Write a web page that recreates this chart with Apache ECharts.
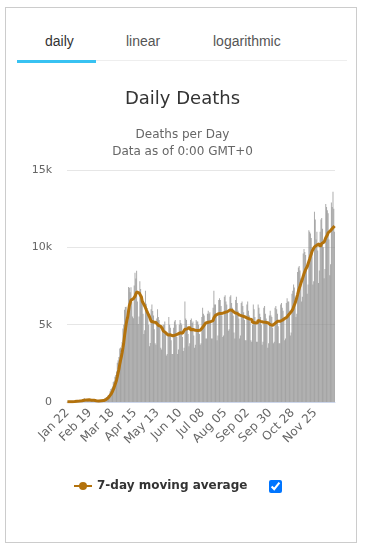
<!DOCTYPE html>
<html>
<head>
<meta charset="utf-8">
<script src="https://cdn.jsdelivr.net/npm/echarts@6/dist/echarts.min.js"></script>
<style>
  html, body { margin:0; padding:0; width:365px; height:552px; background:#fff; overflow:hidden; }
  #box { position:absolute; left:5px; top:7px; width:352px; height:536px; border:1px solid #ccc; box-sizing:border-box; }
  .tab { position:absolute; top:32px; font-family:"Liberation Sans", Arial, sans-serif; font-size:14px; color:#555; line-height:18px; }
  #tabline { position:absolute; left:17px; top:60px; width:330px; height:1px; background:#eee; }
  #tabsel { position:absolute; left:17px; top:60px; width:79px; height:3px; background:#38c2f2; }
  #chart { position:absolute; left:0; top:0; width:365px; height:552px; }
  #cb { position:absolute; left:269px; top:480px; margin:0; width:13px; height:13px; }
</style>
</head>
<body>
<div id="box"></div>
<div class="tab" style="left:45px;color:#333;">daily</div>
<div class="tab" style="left:126px;">linear</div>
<div class="tab" style="left:213px;">logarithmic</div>
<div id="tabline"></div>
<div id="tabsel"></div>
<div id="chart"></div>
<input id="cb" type="checkbox" checked>
<script>
// Daily deaths, Jan 22 .. Dec 19
var janDeaths = [17, 8, 16, 14, 26, 26, 26, 43, 46, 45];
var febDeaths = [46, 57, 64, 66, 73, 73, 86, 89, 97, 108, 97, 254, 121, 143, 142, 105, 98, 136, 115, 118, 109, 97, 150, 71, 64, 37, 58, 64, 70];
var marDeaths = [55, 89, 109, 106, 103, 101, 103, 228, 205, 272, 322, 397, 460, 438, 695, 839, 897, 1008, 1286, 1335, 1640, 1738, 1968, 2534, 2696, 2904, 3460, 3526, 3314, 3883, 4760];
var aprDeaths = [5000, 5968, 6146, 6155, 5300, 5300, 7437, 7392, 7100, 7425, 6458, 5524, 5415, 7528, 8360, 7986, 8491, 6490, 5040, 5520, 7806, 7300, 6846, 6600, 5700, 4400, 4645, 7200, 6360, 6076];
var mayDeaths = [5700, 5000, 3600, 3820, 6000, 6300, 5880, 5600, 4700, 3800, 3700, 5400, 6000, 5500, 5300, 4800, 3500, 3400, 4700, 5000, 5000, 5200, 4600, 3000, 3100, 4400, 5500, 5000, 4800, 4000, 3100];
var junDeaths = [3100, 4800, 5200, 5300, 5000, 4200, 3100, 3400, 5000, 5300, 5100, 5000, 4200, 3300, 3500, 6500, 5400, 5300, 4900, 4400, 3600, 3800, 5300, 5400, 5100, 5200, 4300, 3500, 3700, 5300];
var julDeaths = [5200, 5200, 5000, 4400, 3700, 3800, 5500, 6100, 5700, 5600, 5000, 4100, 4100, 5700, 5900, 5700, 5800, 5100, 4100, 4100, 6100, 7200, 6300, 6300, 5600, 4000, 4300, 6600, 6700, 6600, 6200];
var augDeaths = [5600, 4200, 4300, 6800, 6900, 6500, 6300, 5900, 4600, 4700, 6800, 6900, 6400, 6100, 5600, 4500, 4100, 6600, 6800, 6400, 5900, 5400, 4100, 4300, 6400, 6500, 6200, 5800, 5300, 4000, 4000];
var sepDeaths = [6300, 6500, 5900, 5600, 5200, 4000, 3900, 5000, 6300, 6000, 5500, 5100, 3900, 3900, 6300, 6100, 5700, 5500, 5000, 3700, 3900, 6100, 6200, 5700, 5400, 5100, 3500, 3800, 5600, 5900];
var octDeaths = [5600, 5500, 4800, 3800, 3900, 6100, 6200, 6000, 5700, 4900, 3800, 3800, 6300, 6400, 6100, 5900, 5300, 4000, 4100, 6400, 6700, 6500, 6500, 5900, 4300, 4500, 7000, 7200, 7600, 7400, 6800];
var novDeaths = [5500, 5700, 8400, 8700, 8800, 8500, 8000, 6500, 6800, 9600, 9900, 9700, 9500, 8800, 7000, 7600, 11100, 11000, 10900, 10600, 10000, 7600, 7800, 12300, 11800, 10500, 11000, 9800, 7700, 8500];
var decDeaths = [11000, 11800, 11900, 11200, 10000, 8000, 8600, 12800, 12600, 12400, 12200, 10500, 8200, 8900, 12900, 12600, 13600, 12500, 11000];

var monthNames = ['Jan','Feb','Mar','Apr','May','Jun','Jul','Aug','Sep','Oct','Nov','Dec'];
var monthData = [janDeaths, febDeaths, marDeaths, aprDeaths, mayDeaths, junDeaths, julDeaths, augDeaths, sepDeaths, octDeaths, novDeaths, decDeaths];
var monthFirstDay = [22, 1, 1, 1, 1, 1, 1, 1, 1, 1, 1, 1];

var yTickLabels = {0: '0', 5000: '5k', 10000: '10k', 15000: '15k'};

var categories = [];
var daily = [];
for (var m = 0; m < monthData.length; m++) {
  for (var i = 0; i < monthData[m].length; i++) {
    var d = monthFirstDay[m] + i;
    categories.push(monthNames[m] + ' ' + (d < 10 ? '0' + d : d));
    daily.push(monthData[m][i]);
  }
}
// 7-day moving average of the daily values (as in the source chart)
var movingAvg = [];
for (var k = 0; k < daily.length; k++) {
  var s = 0, n = 0;
  for (var j = Math.max(0, k - 6); j <= k; j++) { s += daily[j]; n++; }
  movingAvg.push(Math.round(s / n));
}

var font = '"DejaVu Sans", Verdana, sans-serif';
var chart = echarts.init(document.getElementById('chart'), null, {renderer: 'canvas'});
chart.setOption({
  animation: false,
  title: [
    {text: 'Daily Deaths', left: 'center', top: 85, textStyle: {fontFamily: font, fontSize: 18, fontWeight: 'normal', color: '#333333'}},
    {text: 'Deaths per Day\nData as of 0:00 GMT+0', left: 'center', top: 121, textStyle: {fontFamily: font, fontSize: 12, fontWeight: 'normal', color: '#666666', lineHeight: 17, align: 'center'}}
  ],
  legend: {
    left: 68, top: 475, itemWidth: 18, itemHeight: 10, itemGap: 10,
    data: ['7-day moving average'],
    textStyle: {fontFamily: font, fontSize: 12, fontWeight: 'bold', color: '#333333'}
  },
  grid: {left: 67, right: 30, top: 170, bottom: 150, containLabel: false},
  xAxis: {
    type: 'category', data: categories, boundaryGap: true,
    axisLine: {lineStyle: {color: '#ccd6eb'}},
    axisTick: {show: false},
    axisLabel: {interval: 27, rotate: 45, margin: 9, fontFamily: font, fontSize: 12, color: '#666666'}
  },
  yAxis: {
    type: 'value', min: 0, max: 15000, interval: 5000,
    axisLine: {show: false}, axisTick: {show: false},
    splitLine: {lineStyle: {color: '#e6e6e6'}},
    axisLabel: {margin: 15, fontFamily: font, fontSize: 11, color: '#666666', formatter: function (v) { return yTickLabels[v]; }}
  },
  series: [
    {name: 'Daily Deaths', type: 'bar', data: daily, barCategoryGap: '5%',
     itemStyle: {color: 'rgba(140,140,140,0.72)'}, legendHoverLink: false},
    {name: '7-day moving average', type: 'line', data: movingAvg, symbol: 'circle', symbolSize: 8, showSymbol: false,
     itemStyle: {color: '#b3720c'}, lineStyle: {color: '#b3720c', width: 3}}
  ]
});
</script>
</body>
</html>
